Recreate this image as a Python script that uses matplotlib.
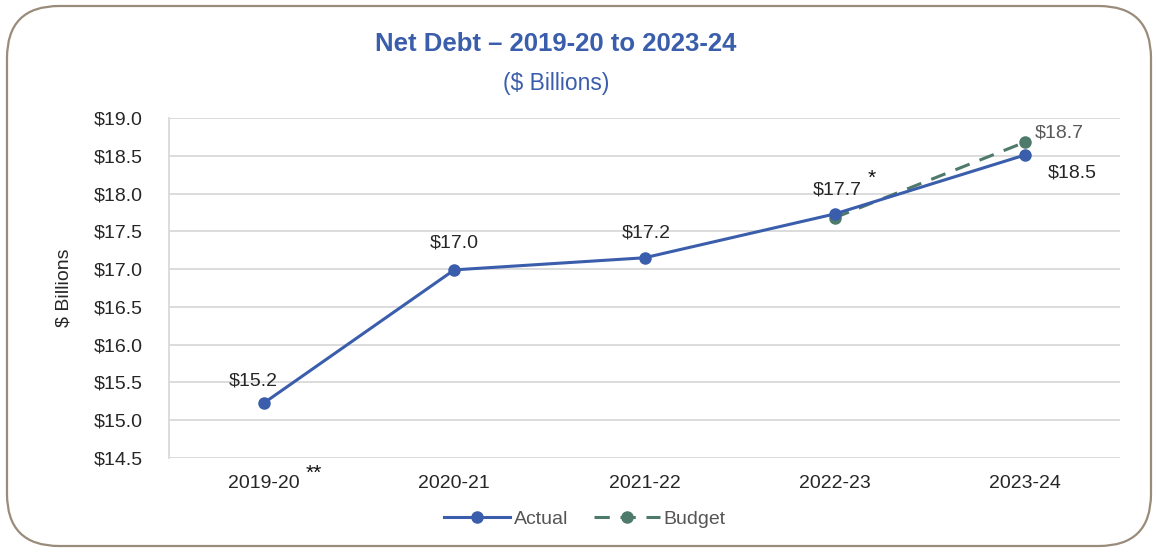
import matplotlib
matplotlib.use("Agg")
import matplotlib.pyplot as plt
from matplotlib.patches import FancyBboxPatch

plt.rcParams['font.family'] = ['Liberation Sans', 'DejaVu Sans']

years = ["2019-20", "2020-21", "2021-22", "2022-23", "2023-24"]
actual = [15.23, 16.99, 17.15, 17.73, 18.51]
budget_years = ["2022-23", "2023-24"]
budget = [17.68, 18.68]
actual_labels = ["$15.2", "$17.0", "$17.2", "$17.7", "$18.5"]
budget_labels = ["$18.7"]
yticks = [14.5, 15.0, 15.5, 16.0, 16.5, 17.0, 17.5, 18.0, 18.5, 19.0]

W, H = 1158, 554
fig = plt.figure(figsize=(W/100, H/100), dpi=100)
fig.patch.set_facecolor('white')

# rounded border
border = FancyBboxPatch((7/W, 8/H), (1151-7)/W, (548-8)/H,
                        boxstyle="round,pad=0,rounding_size=0.045",
                        transform=fig.transFigure, facecolor='none',
                        edgecolor='#9a8b7a', linewidth=1.6, mutation_aspect=W/H)
fig.patches.append(border)

ax = fig.add_axes([169/W, 1-458/H, (1120-169)/W, (458-118)/H])
x = list(range(len(years)))
bx = [years.index(y) for y in budget_years]

blue = '#3a5eab'
green = '#4e7a6c'
txt = '#262626'
fs = 14

ax.plot(bx, budget, color=green, linestyle=(0, (5, 3.5)), linewidth=2.2,
        marker='o', markersize=8, label='Budget', zorder=3)
ax.plot(x, actual, color=blue, linewidth=2.2, marker='o', markersize=8,
        label='Actual', zorder=4)

ax.set_xlim(-0.5, 4.5)
ax.set_ylim(14.5, 19.0)
ax.set_yticks(yticks)
ax.set_yticklabels([f"${v:.1f}" for v in yticks], fontsize=fs, color=txt)
ax.set_xticks(x)
ax.set_xticklabels(years, fontsize=fs, color=txt)
ax.tick_params(length=0)
ax.tick_params(axis='x', pad=12)
ax.tick_params(axis='y', pad=19)
ax.grid(axis='y', color='#d9d9d9', linewidth=1.3)
ax.set_axisbelow(True)
for s in ['top', 'right', 'bottom']:
    ax.spines[s].set_visible(False)
ax.spines['left'].set_color('#d9d9d9')
ax.spines['left'].set_linewidth(1.3)

ax.set_ylabel("$ Billions", fontsize=fs, color=txt)
ax.yaxis.set_label_coords(-97/951, 0.5)

# annotations (pixel offsets)
offs = [(-11, 22), (0, 27), (2, 25), (3, 24), (47, -18)]
for i, (v, t) in enumerate(zip(actual, actual_labels)):
    ax.annotate(t, (x[i], v), xytext=offs[i], textcoords='offset pixels',
                ha='center', va='center', fontsize=fs, color=txt)
ax.annotate(budget_labels[0], (bx[1], budget[1]), xytext=(34, 9), textcoords='offset pixels',
            ha='center', va='center', fontsize=fs, color='#595959')
# stars
fig.text(872/W, 1-178/H, "*", fontsize=15, ha='center', va='center', color='#111111')
fig.text(314/W, 1-473/H, "**", fontsize=15, ha='center', va='center', color='#111111')

# titles
fig.text(556/W, 1-44/H, "Net Debt \u2013 2019-20 to 2023-24", fontsize=18.5, fontweight='bold',
         color=blue, ha='center', va='center')
fig.text(556/W, 1-84/H, "($ Billions)", fontsize=16.5, color=blue, ha='center', va='center')

h, l = ax.get_legend_handles_labels()
leg = fig.legend([h[1], h[0]], [l[1], l[0]], loc='center', bbox_to_anchor=(585/W, 1-519/H),
                 ncol=2, frameon=False, fontsize=fs, handlelength=3.4, columnspacing=1.3,
                 handletextpad=0.2, labelcolor='#555555')

fig.savefig("out.png", dpi=100, facecolor='white')
